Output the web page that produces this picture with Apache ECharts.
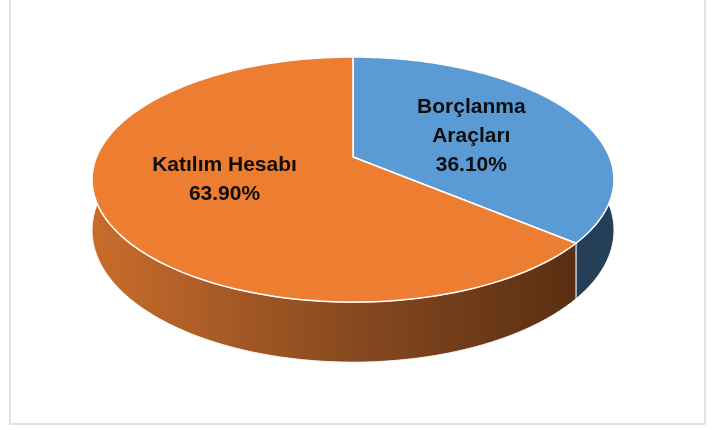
<!DOCTYPE html>
<html>
<head>
<meta charset="utf-8">
<script src="https://cdn.jsdelivr.net/npm/echarts@6/dist/echarts.min.js"></script>
<style>
  html, body { margin: 0; padding: 0; background: #fff; }
  #pie-chart { width: 720px; height: 430px; }
</style>
</head>
<body>
<div id="pie-chart"></div>
<script>
// slices go clockwise from 12 o'clock
var categories = ["Borçlanma Araçları", "Katılım Hesabı"];
var labelText = ["Borçlanma\nAraçları", "Katılım Hesabı"];
var values = [36.1, 63.9];
var topColors = ["#5B9BD5", "#ED7D31"];

var PieDOM = document.getElementById("pie-chart");
var pieChart = echarts.init(PieDOM);

// fake 3d: tilted disc with a bit of perspective
var CX = 353, CY = 157, RX = 256.5, RY = 118.4, K = 0.184, H = 49;

function proj(theta, r, depth) {
  var u = Math.cos(theta) * r, v = Math.sin(theta) * r;
  var s = 1 / (1 - K * v);
  return [CX + RX * u * s, CY + RY * v * s + depth * s];
}

function sliceAngles(idx) {
  var total = 0, before = 0;
  for (var i = 0; i < values.length; i++) {
    total += values[i];
    if (i < idx) before += values[i];
  }
  var a0 = -Math.PI / 2 + 2 * Math.PI * before / total;
  var a1 = a0 + 2 * Math.PI * values[idx] / total;
  return [a0, a1];
}

function arc(a0, a1, depth) {
  var pts = [];
  var n = 120;
  for (var i = 0; i <= n; i++) {
    pts.push(proj(a0 + (a1 - a0) * i / n, 1, depth));
  }
  return pts;
}

var sideFills = [
  "#253F58",
  new echarts.graphic.LinearGradient(0, 0, 1, 0, [
    { offset: 0, color: "#C96C2B" },
    { offset: 0.53, color: "#874A20" },
    { offset: 1, color: "#5A2E12" },
  ]),
];

function renderSide(params, api) {
  var a = sliceAngles(params.dataIndex);
  var pts = arc(a[0], a[1], 0).concat(arc(a[0], a[1], H).reverse());
  return {
    type: "polygon",
    shape: { points: pts },
    style: {
      fill: sideFills[params.dataIndex],
      stroke: "rgba(255,255,255,0.85)",
      lineWidth: 1,
    },
  };
}

function renderTop(params, api) {
  var i = params.dataIndex;
  var a = sliceAngles(i);
  var pts = [[CX, CY]].concat(arc(a[0], a[1], 0));
  var mid = (a[0] + a[1]) / 2;
  var lp = proj(mid, 0.53, 0);
  // vertical label spot: flat, a bit nearer the middle
  lp[1] = CY + RY * 0.44 * Math.sin(mid) + 1;
  var pct = (api.value(0)).toFixed(2) + "%";
  return {
    type: "group",
    children: [
      {
        type: "polygon",
        shape: { points: pts },
        style: {
          fill: topColors[i],
          stroke: "#ffffff",
          lineWidth: 1.5,
        },
      },
      {
        type: "text",
        z2: 10,
        style: {
          text: labelText[i] + "\n" + pct,
          x: lp[0],
          y: lp[1],
          align: "center",
          verticalAlign: "middle",
          font: 'bold 21px "Liberation Sans"',
          lineHeight: 29,
          fill: "#0D0D0D",
        },
      },
    ],
  };
}

var option = {
  backgroundColor: "#ffffff",
  animation: false,
  graphic: [
    {
      type: "rect",
      shape: { x: 10, y: -5, width: 695, height: 429 },
      style: { fill: "none", stroke: "#D9D9D9", lineWidth: 1.5 },
      silent: true,
    },
  ],
  series: [
    {
      name: "sides",
      type: "custom",
      coordinateSystem: "none",
      z: 1,
      renderItem: renderSide,
      data: values,
    },
    {
      name: "tops",
      type: "custom",
      coordinateSystem: "none",
      z: 2,
      renderItem: renderTop,
      data: values.map(function (v, i) {
        return { name: categories[i], value: v };
      }),
    },
  ],
};
option && pieChart.setOption(option);
</script>
</body>
</html>
